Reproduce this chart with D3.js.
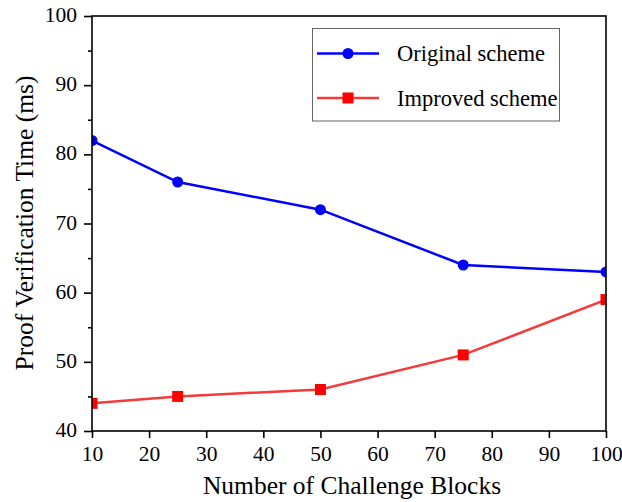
<!DOCTYPE html>
<html>
<head>
<meta charset="utf-8">
<script src="https://cdn.jsdelivr.net/npm/d3@7"></script>
<style>
  html, body { margin: 0; padding: 0; background: #fff; }
  svg { display: block; }
  text { font-family: "Liberation Serif", "Times New Roman", serif; fill: #000; }
</style>
</head>
<body>
<svg id="chart" width="622" height="502"></svg>
<script>
// Challenge block counts and verification times (ms)
const blocks = [10, 25, 50, 75, 100];
const originalScheme = [82, 76, 72, 64, 63];
const improvedScheme = [44, 45, 46, 51, 59];
const xTicks = [10, 20, 30, 40, 50, 60, 70, 80, 90, 100];
const yTicks = [40, 50, 60, 70, 80, 90, 100];
const yMinorTicks = [45, 55, 65, 75, 85, 95];

const seriesList = [
  { name: "Original scheme", values: originalScheme, color: "#0000ff", marker: "circle" },
  { name: "Improved scheme", values: improvedScheme, color: "#f53a3a", markerColor: "#ff0000", marker: "square" }
];

const svg = d3.select("#chart");
const margin = { left: 92, right: 16, top: 16, bottom: 71 };
const W = 622, H = 502;
const x = d3.scaleLinear().domain([10, 100]).range([margin.left, W - margin.right]);
const y = d3.scaleLinear().domain([40, 100]).range([H - margin.bottom, margin.top]);

// clip marks to the plotting area
svg.append("defs").append("clipPath").attr("id", "plotClip")
  .append("rect")
  .attr("x", x(10)).attr("y", y(100))
  .attr("width", x(100) - x(10)).attr("height", y(40) - y(100));

const plot = svg.append("g").attr("clip-path", "url(#plotClip)");

const line = d3.line().x((d, i) => x(blocks[i])).y(d => y(d));

seriesList.forEach(s => {
  plot.append("path")
    .datum(s.values)
    .attr("fill", "none")
    .attr("stroke", s.color)
    .attr("stroke-width", 2.5)
    .attr("d", line);
  if (s.marker === "circle") {
    plot.selectAll(null).data(s.values).enter().append("circle")
      .attr("cx", (d, i) => x(blocks[i]))
      .attr("cy", d => y(d))
      .attr("r", 5.5)
      .attr("fill", s.color);
  } else {
    plot.selectAll(null).data(s.values).enter().append("rect")
      .attr("x", (d, i) => x(blocks[i]) - 5.5)
      .attr("y", d => y(d) - 5.5)
      .attr("width", 11).attr("height", 11)
      .attr("fill", s.markerColor);
  }
});

// axes
const xAxis = d3.axisBottom(x).tickValues(xTicks).tickSize(7).tickFormat(d3.format("d"));
const yAxis = d3.axisLeft(y).tickValues(yTicks).tickSize(8).tickPadding(7).tickFormat(d3.format("d"));
const yMinor = d3.axisLeft(y).tickValues(yMinorTicks).tickSize(4).tickFormat("");

const gx = svg.append("g").attr("transform", `translate(0,${y(40)})`).call(xAxis);
const gy = svg.append("g").attr("transform", `translate(${x(10)},0)`).call(yAxis);
const gym = svg.append("g").attr("transform", `translate(${x(10)},0)`).call(yMinor);

[gx, gy, gym].forEach(g => {
  g.select(".domain").remove();
  g.selectAll(".tick line").attr("stroke", "#000").attr("stroke-width", 1.6);
  g.selectAll(".tick text").style("font-size", "21.5px");
});
gx.selectAll(".tick text").attr("y", 30).attr("dy", 0);
gy.selectAll(".tick text").attr("dy", "0.26em");

// frame
svg.append("rect")
  .attr("x", x(10)).attr("y", y(100))
  .attr("width", x(100) - x(10)).attr("height", y(40) - y(100))
  .attr("fill", "none").attr("stroke", "#000").attr("stroke-width", 1.6);

// axis titles
svg.append("text")
  .attr("x", 352).attr("y", 494)
  .attr("text-anchor", "middle")
  .style("font-size", "25.5px")
  .text("Number of Challenge Blocks");

svg.append("text")
  .attr("transform", `translate(33,223) rotate(-90)`)
  .attr("text-anchor", "middle")
  .style("font-size", "25.5px")
  .text("Proof Verification Time (ms)");

// legend
const legend = svg.append("g");
legend.append("rect")
  .attr("x", 312.5).attr("y", 28.5).attr("width", 247).attr("height", 92.5)
  .attr("fill", "#fff").attr("stroke", "#666").attr("stroke-width", 1);

seriesList.forEach((s, i) => {
  const ly = 53.5 + i * 44.5;
  legend.append("line")
    .attr("x1", 317).attr("x2", 379).attr("y1", ly).attr("y2", ly)
    .attr("stroke", s.color).attr("stroke-width", 2.5);
  if (s.marker === "circle") {
    legend.append("circle").attr("cx", 348).attr("cy", ly).attr("r", 5.5).attr("fill", s.color);
  } else {
    legend.append("rect").attr("x", 342.5).attr("y", ly - 5.5).attr("width", 11).attr("height", 11).attr("fill", s.markerColor);
  }
  legend.append("text")
    .attr("x", 397).attr("y", ly + 7.5)
    .style("font-size", "22.5px")
    .text(s.name);
});
</script>
</body>
</html>
